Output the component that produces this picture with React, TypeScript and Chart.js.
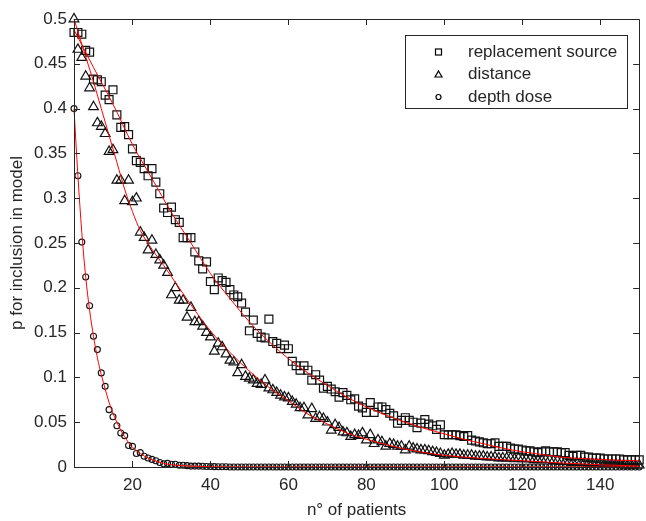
import React, { useEffect, useRef } from "react";
import { Chart, registerables } from "chart.js";

Chart.register(...registerables);

const patients = [
  5, 6, 7, 8, 9, 10, 11, 12, 13, 14, 15, 16, 17, 18, 19, 20, 21, 22, 23, 24,
  25, 26, 27, 28, 29, 30, 31, 32, 33, 34, 35, 36, 37, 38, 39, 40, 41, 42, 43, 44,
  45, 46, 47, 48, 49, 50, 51, 52, 53, 54, 55, 56, 57, 58, 59, 60, 61, 62, 63, 64,
  65, 66, 67, 68, 69, 70, 71, 72, 73, 74, 75, 76, 77, 78, 79, 80, 81, 82, 83, 84,
  85, 86, 87, 88, 89, 90, 91, 92, 93, 94, 95, 96, 97, 98, 99, 100, 101, 102, 103, 104,
  105, 106, 107, 108, 109, 110, 111, 112, 113, 114, 115, 116, 117, 118, 119, 120, 121, 122, 123, 124,
  125, 126, 127, 128, 129, 130, 131, 132, 133, 134, 135, 136, 137, 138, 139, 140, 141, 142, 143, 144,
  145, 146, 147, 148, 149, 150,
];

const replacementSource = [
  0.485, 0.485, 0.483, 0.465, 0.463, 0.433, 0.432, 0.43, 0.415, 0.41, 0.421, 0.393, 0.379, 0.38, 0.371, 0.355, 0.342, 0.34, 0.333, 0.325,
  0.333, 0.318, 0.305, 0.289, 0.284, 0.29, 0.276, 0.273, 0.256, 0.256, 0.256, 0.24, 0.23, 0.221, 0.229, 0.207, 0.198, 0.211, 0.208, 0.206,
  0.198, 0.192, 0.19, 0.183, 0.173, 0.152, 0.164, 0.149, 0.145, 0.144, 0.165, 0.14, 0.138, 0.132, 0.136, 0.132, 0.118, 0.113, 0.108, 0.113,
  0.108, 0.097, 0.103, 0.097, 0.088, 0.09, 0.087, 0.084, 0.078, 0.083, 0.08, 0.075, 0.076, 0.068, 0.066, 0.061, 0.072, 0.061, 0.067, 0.067,
  0.064, 0.06, 0.057, 0.049, 0.052, 0.055, 0.052, 0.05, 0.044, 0.049, 0.053, 0.048, 0.046, 0.042, 0.047, 0.036, 0.036, 0.036, 0.036, 0.035,
  0.034, 0.035, 0.03, 0.029, 0.028, 0.027, 0.026, 0.026, 0.027, 0.023, 0.023, 0.023, 0.021, 0.02, 0.02, 0.019, 0.018, 0.018, 0.017, 0.016,
  0.017, 0.018, 0.017, 0.017, 0.017, 0.016, 0.016, 0.013, 0.012, 0.013, 0.013, 0.011, 0.011, 0.01, 0.01, 0.01, 0.009, 0.009, 0.009, 0.009,
  0.009, 0.008, 0.008, 0.008, 0.008, 0.008,
];

const distance = [
  0.5, 0.466, 0.457, 0.436, 0.423, 0.402, 0.384, 0.38, 0.372, 0.352, 0.354, 0.32, 0.32, 0.297, 0.32, 0.296, 0.3, 0.262, 0.256, 0.242,
  0.253, 0.237, 0.231, 0.225, 0.217, 0.192, 0.2, 0.186, 0.186, 0.167, 0.178, 0.162, 0.162, 0.157, 0.15, 0.145, 0.129, 0.138, 0.134, 0.126,
  0.119, 0.117, 0.105, 0.114, 0.101, 0.099, 0.097, 0.093, 0.092, 0.097, 0.088, 0.086, 0.083, 0.08, 0.078, 0.077, 0.073, 0.07, 0.066, 0.066,
  0.058, 0.065, 0.054, 0.056, 0.054, 0.05, 0.041, 0.047, 0.044, 0.039, 0.038, 0.034, 0.036, 0.035, 0.038, 0.03, 0.036, 0.026, 0.03, 0.028,
  0.023, 0.026, 0.025, 0.023, 0.023, 0.019, 0.023, 0.021, 0.02, 0.019, 0.019, 0.018, 0.017, 0.016, 0.015, 0.013, 0.014, 0.015, 0.014, 0.014,
  0.013, 0.013, 0.013, 0.012, 0.012, 0.012, 0.011, 0.011, 0.011, 0.01, 0.01, 0.01, 0.01, 0.009, 0.01, 0.009, 0.009, 0.009, 0.008, 0.008,
  0.008, 0.008, 0.008, 0.007, 0.007, 0.006, 0.006, 0.006, 0.005, 0.005, 0.005, 0.005, 0.004, 0.004, 0.004, 0.004, 0.003, 0.003, 0.003, 0.003,
  0.003, 0.002, 0.002, 0.002, 0.002, 0.002,
];

const depthDose = [
  0.4, 0.325, 0.251, 0.212, 0.18, 0.146, 0.131, 0.105, 0.09, 0.064, 0.056, 0.046, 0.038, 0.035, 0.024, 0.023, 0.015, 0.016, 0.012, 0.01,
  0.0085, 0.007, 0.005, 0.0035, 0.004, 0.003, 0.003, 0.002, 0.002, 0.0015, 0.001, 0.001, 0.001, 0.0008, 0.0006, 0.0005, 0.0004, 0.0003, 0.0003, 0.0002,
  0, 0, 0, 0, 0, 0, 0, 0, 0, 0, 0, 0, 0, 0, 0, 0, 0, 0, 0, 0,
  0, 0, 0, 0, 0, 0, 0, 0, 0, 0, 0, 0, 0, 0, 0, 0, 0, 0, 0, 0,
  0, 0, 0, 0, 0, 0, 0, 0, 0, 0, 0, 0, 0, 0, 0, 0, 0, 0, 0, 0,
  0, 0, 0, 0, 0, 0, 0, 0, 0, 0, 0, 0, 0, 0, 0, 0, 0, 0, 0, 0,
  0, 0, 0, 0, 0, 0, 0, 0, 0, 0, 0, 0, 0, 0, 0, 0, 0, 0, 0, 0,
  0, 0, 0, 0, 0, 0,
];

// fitted curves (red)
const fitSourceX = [5, 10, 15, 20, 25, 30, 35, 40, 45, 50, 55, 60, 65, 70, 75, 80, 85, 90, 95, 100, 105, 110, 115, 120, 125, 130, 135, 140, 145, 150];
const fitSourceY = [0.488, 0.446, 0.405, 0.36, 0.322, 0.284, 0.25, 0.216, 0.188, 0.162, 0.14, 0.121, 0.105, 0.091, 0.078, 0.067, 0.058, 0.05, 0.043, 0.037, 0.031, 0.026, 0.021, 0.017, 0.014, 0.011, 0.0095, 0.0085, 0.0075, 0.007];

const fitDistX = [5, 8, 10, 12, 14, 16, 18, 20, 22, 25, 28, 31, 35, 40, 45, 50, 55, 60, 65, 70, 75, 80, 85, 90, 95, 100, 110, 120, 130, 140, 150];
const fitDistY = [0.5, 0.458, 0.43, 0.4, 0.37, 0.34, 0.31, 0.285, 0.264, 0.243, 0.225, 0.206, 0.181, 0.152, 0.128, 0.107, 0.089, 0.074, 0.059, 0.048, 0.038, 0.031, 0.025, 0.02, 0.016, 0.013, 0.0095, 0.007, 0.0045, 0.0025, 0.001];

const fitDepthX = [5, 6, 7, 8, 9, 10, 11, 12, 13, 14, 15, 16, 17, 18, 19, 20, 22, 24, 26, 28, 30, 35, 40, 50, 150];
const fitDepthY = [0.4, 0.325, 0.262, 0.212, 0.175, 0.146, 0.122, 0.103, 0.087, 0.072, 0.06, 0.05, 0.041, 0.034, 0.027, 0.022, 0.015, 0.01, 0.0065, 0.004, 0.0025, 0.001, 0.0003, 0, 0];

const xTicks = [20, 40, 60, 80, 100, 120, 140];
const yTicks = [0, 0.05, 0.1, 0.15, 0.2, 0.25, 0.3, 0.35, 0.4, 0.45, 0.5];

const legendLabels = ["replacement source", "distance", "depth dose"];
const xTitle = "n° of patients";
const yTitle = "p for inclusion in model";

const AX = "#262626";
const FONT = "'Liberation Sans', Arial, sans-serif";

const pts = (xs: number[], ys: number[]) => xs.map((x, i) => ({ x, y: ys[i] }));

const boxPlugin = {
  id: "matlabBox",
  afterDatasetsDraw(chart: any) {
    const { ctx, chartArea: a, scales } = chart;
    const tl = 6;
    ctx.save();
    ctx.strokeStyle = AX;
    ctx.lineWidth = 1;
    ctx.beginPath();
    ctx.rect(Math.round(a.left) + 0.5, Math.round(a.top) + 0.5, Math.round(a.right - a.left), Math.round(a.bottom - a.top));
    for (const v of xTicks) {
      const px = Math.round(scales.x.getPixelForValue(v)) + 0.5;
      ctx.moveTo(px, a.bottom);
      ctx.lineTo(px, a.bottom - tl);
      ctx.moveTo(px, a.top);
      ctx.lineTo(px, a.top + tl);
    }
    for (const v of yTicks) {
      const py = Math.round(scales.y.getPixelForValue(v)) + 0.5;
      ctx.moveTo(a.left, py);
      ctx.lineTo(a.left + tl, py);
      ctx.moveTo(a.right, py);
      ctx.lineTo(a.right - tl, py);
    }
    ctx.stroke();

    // legend
    const lx = 405, ly = 35, lw = 222, lh = 73;
    ctx.fillStyle = "#ffffff";
    ctx.fillRect(lx, ly, lw, lh);
    ctx.strokeStyle = AX;
    ctx.strokeRect(lx + 0.5, ly + 0.5, lw, lh);
    const rows = [52, 74.5, 97];
    const mx = 438.5;
    ctx.strokeStyle = "#000";
    ctx.lineWidth = 1.2;
    ctx.strokeRect(mx - 3, rows[0] - 3, 6, 6);
    ctx.beginPath();
    ctx.moveTo(mx, rows[1] - 3.5);
    ctx.lineTo(mx + 3.5, rows[1] + 2.5);
    ctx.lineTo(mx - 3.5, rows[1] + 2.5);
    ctx.closePath();
    ctx.stroke();
    ctx.beginPath();
    ctx.arc(mx, rows[2], 2.5, 0, Math.PI * 2);
    ctx.stroke();
    ctx.fillStyle = AX;
    ctx.font = `17px ${FONT}`;
    ctx.textAlign = "left";
    ctx.textBaseline = "middle";
    legendLabels.forEach((t, i) => ctx.fillText(t, 468, rows[i]));
    ctx.restore();
  },
};

export default function App() {
  const ref = useRef<HTMLCanvasElement>(null);
  useEffect(() => {
    document.body.style.margin = "0";
    const canvas = ref.current!;
    const chart = new Chart(canvas, {
      type: "scatter",
      data: {
        datasets: [
          {
            label: "fit source",
            data: pts(fitSourceX, fitSourceY),
            showLine: true,
            borderColor: "#ff0000",
            borderWidth: 1,
            pointRadius: 0,
            cubicInterpolationMode: "monotone",
          },
          {
            label: "fit distance",
            data: pts(fitDistX, fitDistY),
            showLine: true,
            borderColor: "#ff0000",
            borderWidth: 1,
            pointRadius: 0,
            cubicInterpolationMode: "monotone",
          },
          {
            label: "fit depth",
            data: pts(fitDepthX, fitDepthY),
            showLine: true,
            borderColor: "#ff0000",
            borderWidth: 1,
            pointRadius: 0,
            cubicInterpolationMode: "monotone",
          },
          {
            label: legendLabels[0],
            data: pts(patients, replacementSource),
            pointStyle: "rect",
            pointRadius: 5.6,
            borderColor: "#111",
            borderWidth: 1.2,
            backgroundColor: "rgba(0,0,0,0)",
          },
          {
            label: legendLabels[1],
            data: pts(patients, distance),
            pointStyle: "triangle",
            pointRadius: 5.6,
            borderColor: "#111",
            borderWidth: 1.2,
            backgroundColor: "rgba(0,0,0,0)",
          },
          {
            label: legendLabels[2],
            data: pts(patients, depthDose),
            pointStyle: "circle",
            pointRadius: 3,
            borderColor: "#111",
            borderWidth: 1.1,
            backgroundColor: "rgba(0,0,0,0)",
          },
        ],
      },
      options: {
        animation: false,
        responsive: false,
        clip: false,
        layout: { padding: { top: 19, right: 3, left: 0, bottom: 0 } },
        plugins: { legend: { display: false }, tooltip: { enabled: false } },
        scales: {
          x: {
            type: "linear",
            min: 5,
            max: 150,
            afterBuildTicks: (s: any) => {
              s.ticks = xTicks.map((v) => ({ value: v }));
            },
            afterFit: (s: any) => {
              s.height = 54;
            },
            grid: { display: false, drawTicks: false },
            border: { display: false },
            ticks: { color: AX, font: { family: FONT, size: 17 }, padding: 8, maxRotation: 0, autoSkip: false },
            title: { display: true, text: xTitle, color: AX, font: { family: FONT, size: 17 }, padding: { top: 4, bottom: 0 } },
          },
          y: {
            type: "linear",
            min: 0,
            max: 0.5,
            afterBuildTicks: (s: any) => {
              s.ticks = yTicks.map((v) => ({ value: v }));
            },
            afterFit: (s: any) => {
              s.width = 74;
            },
            grid: { display: false, drawTicks: false },
            border: { display: false },
            ticks: {
              color: AX,
              font: { family: FONT, size: 17 },
              padding: 7,
              autoSkip: false,
              callback: (v: any) => String(v),
            },
            title: { display: true, text: yTitle, color: AX, font: { family: FONT, size: 17 }, padding: { top: 7, bottom: 0 } },
          },
        },
      },
      plugins: [boxPlugin],
    } as any);
    return () => chart.destroy();
  }, []);
  return (
    <div style={{ position: "absolute", left: 0, top: 0, width: 646, height: 521, background: "#fff" }}>
      <canvas ref={ref} width={646} height={521} style={{ width: 646, height: 521, display: "block" }} />
    </div>
  );
}
